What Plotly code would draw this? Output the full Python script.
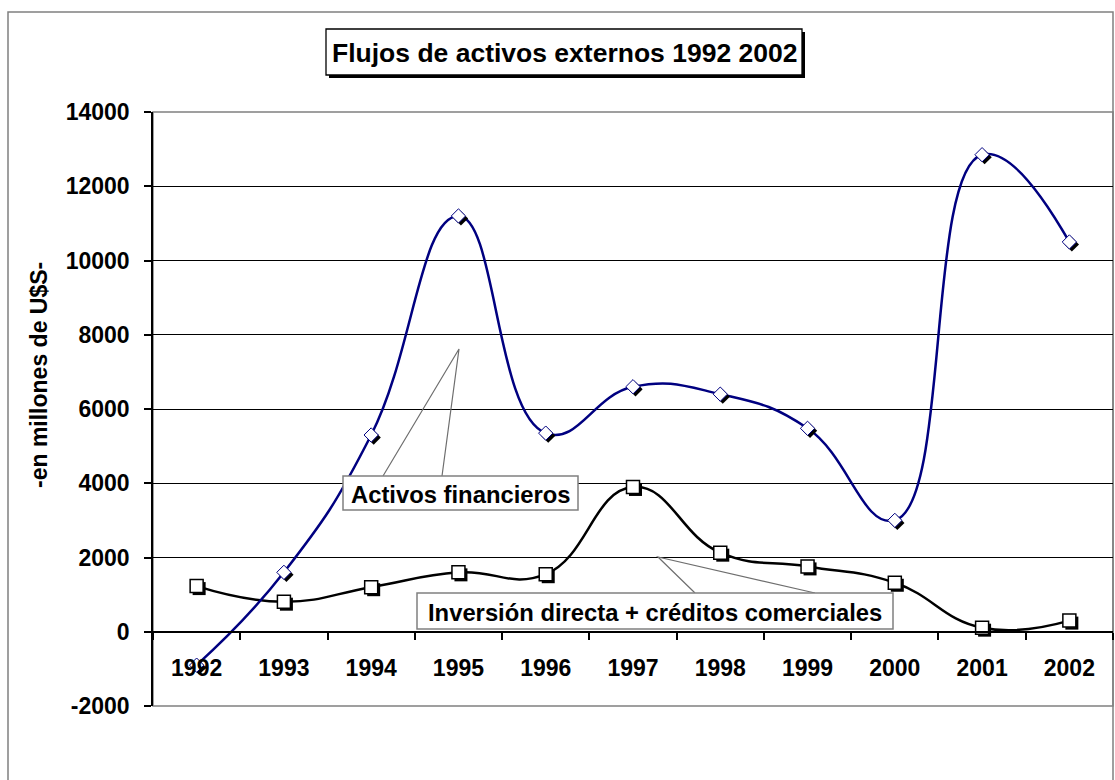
import plotly.graph_objects as go

# datos (millones de U$S)
years = ["1992", "1993", "1994", "1995", "1996", "1997", "1998", "1999", "2000", "2001", "2002"]
activos_financieros = [-900, 1600, 5300, 11200, 5350, 6600, 6400, 5480, 3000, 12850, 10500]
inversion_creditos = [1230, 810, 1200, 1600, 1550, 3900, 2130, 1760, 1320, 110, 300]
y_ticks = [-2000, 0, 2000, 4000, 6000, 8000, 10000, 12000, 14000]
y_ticktext = [str(v) for v in y_ticks]

W, H = 1115, 780
L, R, T, B = 153, 2, 112, 74
PW, PH = W - L - R, H - T - B
FONT = "Liberation Sans, Arial, sans-serif"
NAVY = "#000080"
GRIS = "#808080"

x_rng = [-0.5, len(years) - 0.5]
y_rng = [-2000, 14000]

def px(x):
    return (x - L) / PW

def py(y):
    return (H - B - y) / PH

# desplazamiento de la sombra de los marcadores (en pixeles)
sh = 2.5
dx = sh * (x_rng[1] - x_rng[0]) / PW
dy = sh * (y_rng[1] - y_rng[0]) / PH

fig = go.Figure()

# lineas suavizadas (ejes principales)
fig.add_trace(go.Scatter(x=years, y=inversion_creditos, mode="lines",
                         line=dict(color="black", width=2.5, shape="spline", smoothing=1.3),
                         hoverinfo="skip", showlegend=False))
fig.add_trace(go.Scatter(x=years, y=activos_financieros, mode="lines",
                         line=dict(color=NAVY, width=2.5, shape="spline", smoothing=1.3),
                         hoverinfo="skip", showlegend=False))

# sombras de los marcadores
fig.add_trace(go.Scatter(x=years, y=inversion_creditos, mode="markers", xaxis="x2", yaxis="y2",
                         marker=dict(symbol="square", size=13, color="black", line=dict(width=0)),
                         hoverinfo="skip", showlegend=False))
fig.add_trace(go.Scatter(x=years, y=activos_financieros, mode="markers", xaxis="x2", yaxis="y2",
                         marker=dict(symbol="diamond", size=11, color="black", line=dict(width=0)),
                         hoverinfo="skip", showlegend=False))

# marcadores
fig.add_trace(go.Scatter(x=years, y=inversion_creditos, mode="markers", xaxis="x3", yaxis="y3",
                         name="Inversión directa + créditos comerciales",
                         marker=dict(symbol="square", size=13, color="white", line=dict(color="black", width=1.5)),
                         showlegend=False))
fig.add_trace(go.Scatter(x=years, y=activos_financieros, mode="markers", xaxis="x3", yaxis="y3",
                         name="Activos financieros",
                         marker=dict(symbol="diamond", size=11, color="white", line=dict(color=NAVY, width=1)),
                         showlegend=False))

tickfont = dict(family=FONT, size=23, color="black", weight="bold")
labelfont = dict(family=FONT, size=23.8, color="black", weight="bold")

def caja(x0, x1, y0, y1, color, width):
    return dict(type="rect", xref="paper", yref="paper", x0=px(x0), x1=px(x1), y0=py(y1), y1=py(y0),
                line=dict(color=color, width=width), fillcolor="white", layer="above")

shapes = [
    # borde exterior del grafico
    dict(type="rect", xref="paper", yref="paper", x0=px(8), x1=px(1113), y0=py(12), y1=py(800),
         line=dict(color=GRIS, width=1.5), layer="below"),
    # borde del area de trazado
    dict(type="rect", xref="paper", yref="paper", x0=0, x1=1, y0=0, y1=1,
         line=dict(color=GRIS, width=1.5), layer="below"),
    # caja del titulo con sombra
    dict(type="rect", xref="paper", yref="paper", x0=px(329), x1=px(805), y0=py(78), y1=py(32),
         line=dict(width=0), fillcolor="black", layer="above"),
    caja(326, 802, 29, 75, "black", 1.3),
    # rotulos con flecha
    dict(type="path", xref="paper", yref="paper",
         path=f"M {px(383)} {py(476)} L {px(459)} {py(349)} L {px(442)} {py(476)}",
         line=dict(color="#6e6e6e", width=1.2)),
    caja(343, 578, 476, 510, GRIS, 1.5),
    dict(type="path", xref="paper", yref="paper",
         path=f"M {px(695)} {py(593)} L {px(658)} {py(557)} L {px(815)} {py(593)}",
         line=dict(color="#6e6e6e", width=1.2)),
    caja(417, 893, 593, 629, GRIS, 1.5),
]

annotations = [
    dict(text="Flujos de activos externos 1992 2002", xref="paper", yref="paper",
         x=px(564), y=py(53), xanchor="center", yanchor="middle", showarrow=False,
         font=dict(family=FONT, size=26.5, color="black", weight="bold")),
    dict(text="-en millones de U$S-", xref="paper", yref="paper", x=px(39), y=py(375),
         xanchor="center", yanchor="middle", textangle=-90, showarrow=False, font=tickfont),
    dict(text="Activos financieros", xref="paper", yref="paper", x=px(460.5), y=py(494),
         xanchor="center", yanchor="middle", showarrow=False, font=labelfont),
    dict(text="Inversión directa + créditos comerciales", xref="paper", yref="paper", x=px(655), y=py(612),
         xanchor="center", yanchor="middle", showarrow=False, font=labelfont),
]

fig.update_layout(
    width=W, height=H,
    margin=dict(l=L, r=R, t=T, b=B),
    paper_bgcolor="white", plot_bgcolor="white",
    showlegend=False,
    xaxis=dict(type="category", range=x_rng, anchor="free", position=-y_rng[0] / (y_rng[1] - y_rng[0]),
               showline=True, linecolor="black", linewidth=1.5, showgrid=False, zeroline=False,
               ticks="outside", tickson="boundaries", ticklen=7, tickcolor="black", tickwidth=1.5,
               ticklabelstandoff=16, tickfont=tickfont, fixedrange=True),
    yaxis=dict(range=y_rng, tickvals=y_ticks, ticktext=y_ticktext, showline=True, linecolor="black",
               linewidth=1.5, showgrid=True, gridcolor="black", gridwidth=1.3, zeroline=False,
               ticks="outside", ticklen=7, tickcolor="black", tickwidth=1.5,
               ticklabelstandoff=10, tickfont=tickfont, fixedrange=True),
    xaxis2=dict(type="category", range=[x_rng[0] - dx, x_rng[1] - dx], overlaying="x", visible=False,
                fixedrange=True),
    yaxis2=dict(range=[y_rng[0] + dy, y_rng[1] + dy], overlaying="y", visible=False, fixedrange=True),
    xaxis3=dict(type="category", range=x_rng, overlaying="x", visible=False, fixedrange=True),
    yaxis3=dict(range=y_rng, overlaying="y", visible=False, fixedrange=True),
    shapes=shapes,
    annotations=annotations,
)

fig.write_html("out.html", config={"displayModeBar": False},
               post_script="document.body.style.margin='0';")
